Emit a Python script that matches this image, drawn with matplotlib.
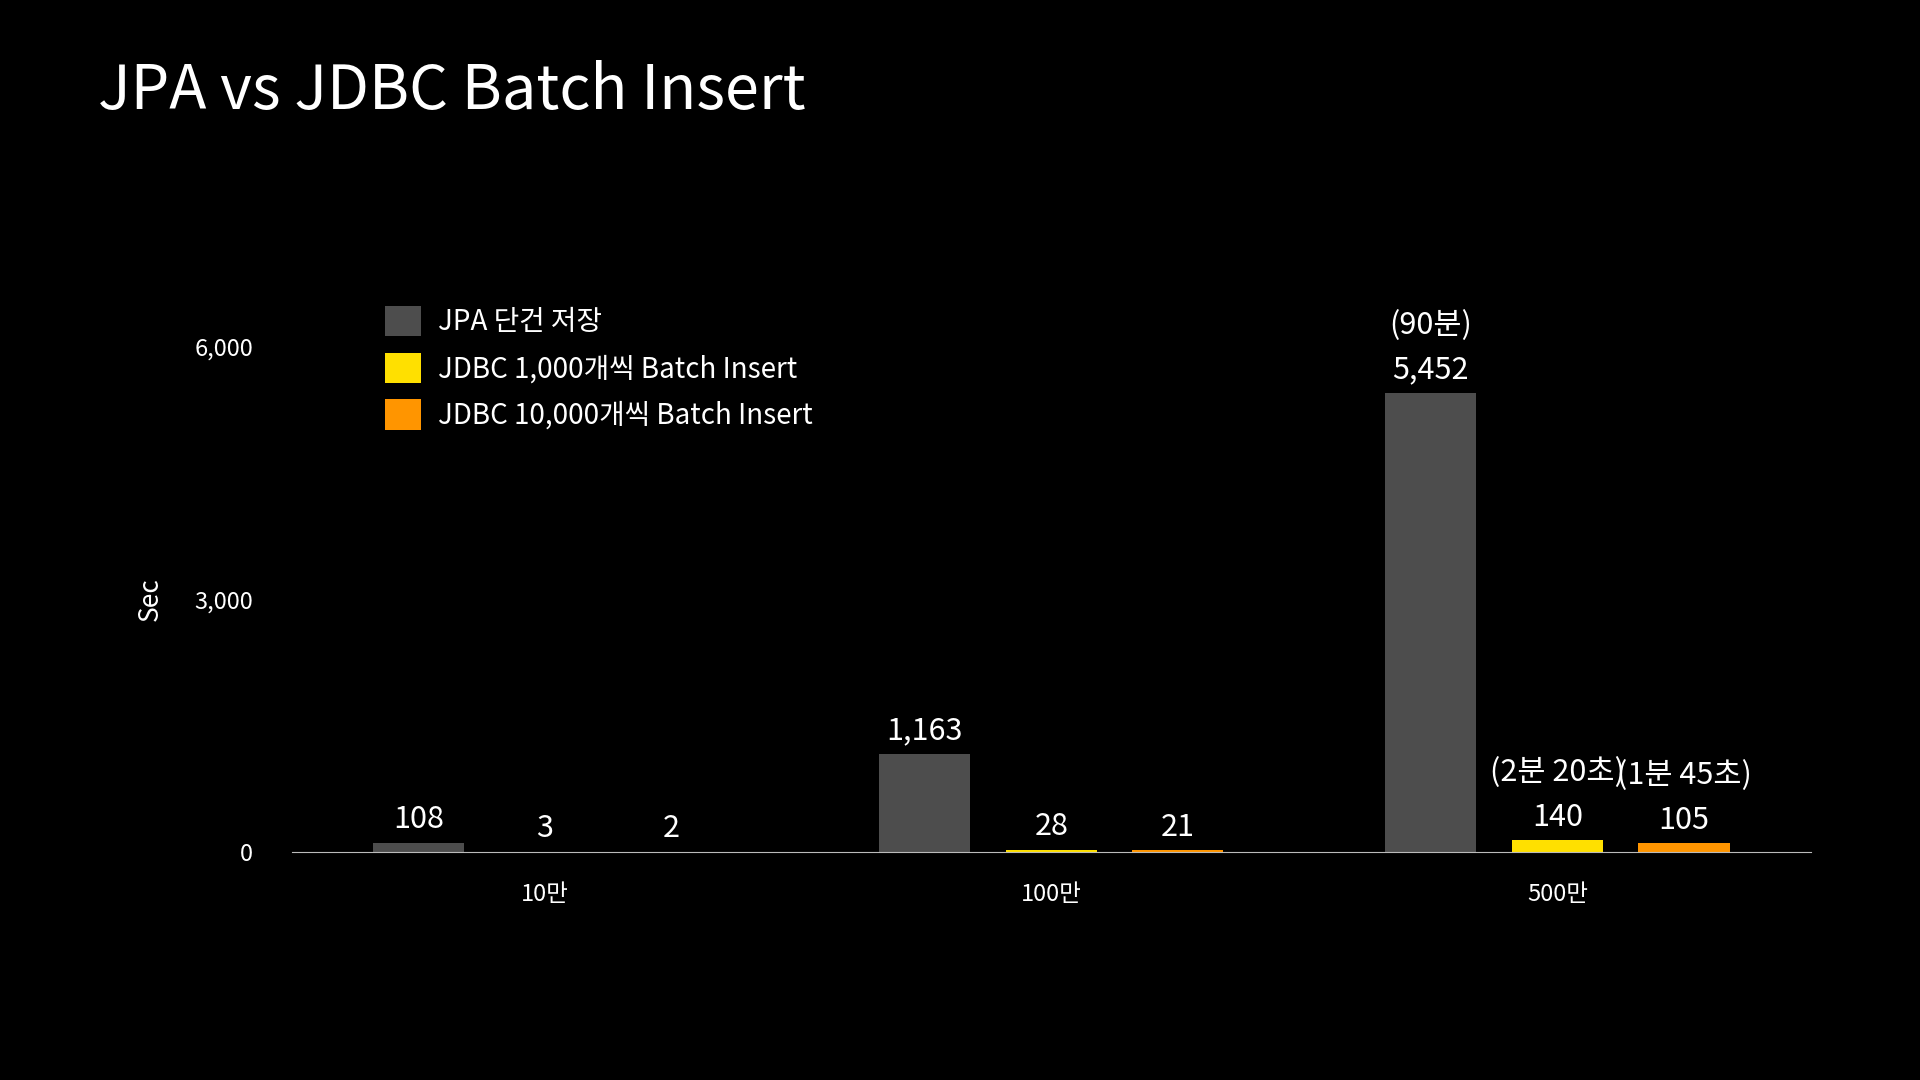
import matplotlib
matplotlib.use("Agg")
import matplotlib.pyplot as plt
import numpy as np

plt.rcParams['font.family'] = ['Noto Sans CJK KR', 'DejaVu Sans']

categories = ["10만", "100만", "500만"]
series_names = ["JPA 단건 저장", "JDBC 1,000개씩 Batch Insert", "JDBC 10,000개씩 Batch Insert"]
jpa = [108, 1163, 5452]
jdbc_1000 = [3, 28, 140]
jdbc_10000 = [2, 21, 105]
notes = {(0, 2): "(90분)", (1, 2): "(2분 20초)", (2, 2): "(1분 45초)"}
colors = ["#4d4d4d", "#ffe000", "#ff9500"]
yticks = [0, 3000, 6000]

fig = plt.figure(figsize=(19.2, 10.8), dpi=100, facecolor="black")
ax = fig.add_axes([0.152, 0.211, 0.791, 0.468], facecolor="black")

x = np.arange(len(categories))
offsets = [-0.25, 0.0, 0.25]
width = 0.18
for s, (vals, col, off) in enumerate(zip([jpa, jdbc_1000, jdbc_10000], colors, offsets)):
    bars = ax.bar(x + off, vals, width, color=col, label=series_names[s])
    for i, v in enumerate(vals):
        ax.text(x[i] + off, v + 90, f"{v:,}", ha="center", va="bottom",
                color="white", fontsize=22)
        if (s, i) in notes:
            ax.text(x[i] + off, v + 620, notes[(s, i)], ha="center", va="bottom",
                    color="white", fontsize=22)

ax.set_xlim(-0.5, 2.5)
ax.set_ylim(0, 6000)
ax.set_xticks(x)
ax.set_xticklabels(categories, color="white", fontsize=17)
ax.set_yticks(yticks)
ax.set_yticklabels([f"{t:,}" for t in yticks], color="white", fontsize=17)
ax.tick_params(length=0, pad=28)
ax.tick_params(axis="x", pad=22)
for side in ["top", "right", "left"]:
    ax.spines[side].set_visible(False)
ax.spines["bottom"].set_color("#bbbbbb")
ax.set_ylabel("Sec", color="white", fontsize=19, labelpad=22)

leg = ax.legend(loc="upper left", bbox_to_anchor=(0.045, 1.13), frameon=False,
                fontsize=20, handlelength=1.3, handleheight=1.3,
                labelspacing=0.55, handletextpad=0.6)
for t in leg.get_texts():
    t.set_color("white")

fig.text(0.051, 0.915, "JPA vs JDBC Batch Insert", color="white", fontsize=44,
         ha="left", va="center", fontweight="medium")

fig.savefig("out.png", facecolor="black")
